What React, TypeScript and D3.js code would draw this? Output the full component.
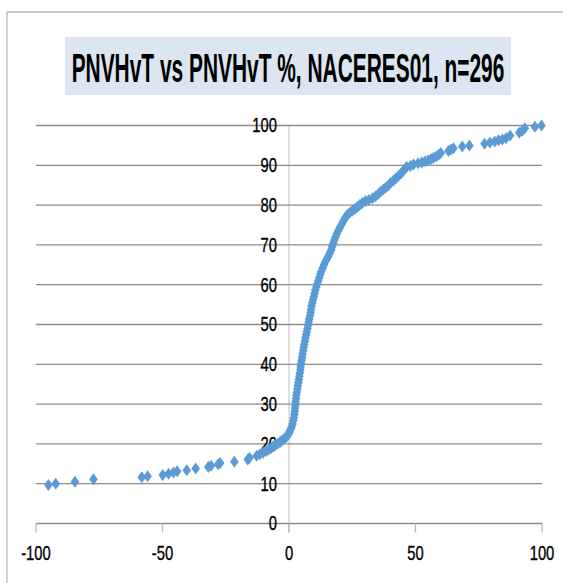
import React from "react";
import * as d3 from "d3";

const title = "PNVHvT vs PNVHvT %, NACERES01, n=296";
const xTicks = [-100, -50, 0, 50, 100];
const yTicks = [0, 10, 20, 30, 40, 50, 60, 70, 80, 90, 100];

const xs = [
  -95.1, -92.2, -84.6, -77.3, -58.2, -55.9, -49.9, -47.6, -45.7, -44.2, -40.4, -36.9, -31.9, -30.8, -28.0, -27.2,
  -21.6, -16.3, -15.6, -12.8, -11.5, -10.2, -9.0, -8.0, -7.0, -6.2, -5.2, -4.3, -3.5, -2.8, -2.0, -1.3, -0.7, -0.2,
  0.2, 0.6, 1.0, 1.4, 1.7, 1.9, 2.1, 2.3, 2.4, 2.5, 2.6, 2.8, 2.9, 3.1, 3.3, 3.5, 3.7, 3.9, 4.1, 4.3, 4.5, 4.6,
  4.8, 5.0, 5.2, 5.4, 5.6, 5.8, 6.0, 6.3, 6.5, 6.8, 7.0, 7.3, 7.5, 7.8, 8.0, 8.3, 8.5, 8.7, 8.9, 9.2, 9.5, 9.8,
  10.1, 10.4, 10.8, 11.2, 11.6, 12.0, 12.4, 12.8, 13.3, 13.8, 14.4, 15.0, 15.6, 16.2, 16.7, 17.1, 17.5, 17.9,
  18.4, 18.9, 19.5, 20.1, 20.8, 21.5, 22.2, 23.0, 24.0, 25.0, 26.0, 27.0, 28.0, 29.0, 30.2, 31.5, 33.0, 34.2,
  35.3, 36.3, 37.3, 38.3, 39.3, 40.2, 41.2, 42.2, 43.2, 44.2, 45.0, 45.8, 46.5, 48.0, 49.2, 51.0, 52.5, 53.8,
  55.0, 56.2, 57.2, 58.3, 59.3, 60.0, 63.0, 64.0, 65.0, 68.5, 71.3, 77.3, 79.4, 81.3, 82.8, 84.3, 85.8, 87.4,
  91.0, 92.2, 93.2, 97.2, 99.8,
];

const ys = [
  9.7, 10.0, 10.5, 11.1, 11.6, 11.9, 12.2, 12.5, 12.8, 13.1, 13.4, 13.8, 14.2, 14.5, 14.9, 15.2,
  15.5, 16.1, 16.5, 17.0, 17.4, 17.8, 18.2, 18.6, 19.0, 19.4, 19.8, 20.1, 20.5, 20.8, 21.2, 21.6, 22.0, 22.5,
  23.0, 23.6, 24.2, 25.0, 25.8, 26.6, 27.4, 28.2, 29.0, 29.8, 30.6, 31.4, 32.2, 33.0, 33.8, 34.6, 35.4, 36.2, 37.0, 37.8, 38.6, 39.4,
  40.2, 41.0, 41.8, 42.6, 43.4, 44.2, 45.0, 45.8, 46.6, 47.4, 48.2, 49.0, 49.8, 50.6, 51.4, 52.2, 53.0, 53.8, 54.6, 55.4, 56.2, 57.0,
  57.8, 58.6, 59.4, 60.2, 61.0, 61.8, 62.6, 63.4, 64.2, 65.0, 65.8, 66.5, 67.2, 68.0, 68.8, 69.6, 70.4, 71.2,
  72.0, 72.8, 73.6, 74.4, 75.2, 76.0, 76.8, 77.5, 78.1, 78.6, 79.0, 79.5, 80.0, 80.5, 81.0, 81.3, 81.7, 82.2,
  82.8, 83.4, 83.9, 84.4, 85.0, 85.6, 86.1, 86.7, 87.3, 87.9, 88.5, 89.1, 89.6, 89.8, 90.2, 90.5, 90.7, 91.0,
  91.3, 91.6, 91.9, 92.3, 92.7, 93.1, 93.6, 94.0, 94.3, 94.7, 95.0, 95.4, 95.7, 96.0, 96.3, 96.5, 96.8, 97.5,
  98.2, 98.7, 99.3, 99.7, 100.0,
];

const W = 563;
const H = 583;
const BLUE = "#5B9BD5";

function Label({ x, y, text, anchor }: { x: number; y: number; text: string; anchor: string }) {
  return (
    <text
      transform={`translate(${x},${y}) scale(0.74,1)`}
      textAnchor={anchor}
      dominantBaseline="central"
      fontFamily="Liberation Sans, Arial, sans-serif"
      fontSize={20}
      stroke="#000"
      strokeWidth={0.35}
      fill="#000"
    >
      {text}
    </text>
  );
}

export default function App() {
  const x = d3.scaleLinear().domain([-100, 100]).range([36, 542]);
  const y = d3.scaleLinear().domain([0, 100]).range([523.5, 125.5]);
  const diamond = "M0,-6L4.3,0L0,6L-4.3,0Z";
  const pts = xs.map((v, i) => [v, ys[i]] as [number, number]);

  return (
    <svg
      width={W}
      height={H}
      style={{ position: "absolute", left: 0, top: 0, background: "#fff" }}
    >
      <rect x={0} y={0} width={W} height={H} fill="#fff" />
      {/* chart frame */}
      <line x1={7} y1={12} x2={W} y2={12} stroke="#999" strokeWidth={1.2} />
      <line x1={7} y1={12} x2={7} y2={H} stroke="#b0b0b0" strokeWidth={1.2} />

      {/* title */}
      <rect x={65} y={37} width={446} height={58} fill="#dce6f2" />
      <text
        transform="translate(288,82) scale(0.51,1)"
        textAnchor="middle"
        fontFamily="Liberation Sans, Arial, sans-serif"
        fontWeight="bold"
        fontSize={41}
        fill="#000"
      >
        {title}
      </text>

      {/* y axis line */}
      <line x1={x(0)} y1={y(100)} x2={x(0)} y2={y(0) + 9} stroke="#d4d4d4" strokeWidth={1.5} />

      {/* gridlines */}
      {yTicks.map((t) => (
        <line key={t} x1={x(-100)} x2={x(100)} y1={y(t)} y2={y(t)} stroke="#8c8c8c" strokeWidth={1.3} />
      ))}

      {/* x ticks */}
      {xTicks.map((t) => (
        <line key={t} x1={x(t)} x2={x(t)} y1={y(0)} y2={y(0) + 9} stroke="#b8b8b8" strokeWidth={1.3} />
      ))}

      {/* y labels */}
      {yTicks.map((t) => (
        <Label key={t} x={277} y={y(t)} text={String(t)} anchor="end" />
      ))}

      {/* x labels */}
      {xTicks.map((t) => (
        <Label key={t} x={x(t)} y={553} text={String(t)} anchor="middle" />
      ))}

      {/* points */}
      {pts.map((p, i) => (
        <path key={i} d={diamond} transform={`translate(${x(p[0])},${y(p[1])})`} fill={BLUE} />
      ))}
    </svg>
  );
}
